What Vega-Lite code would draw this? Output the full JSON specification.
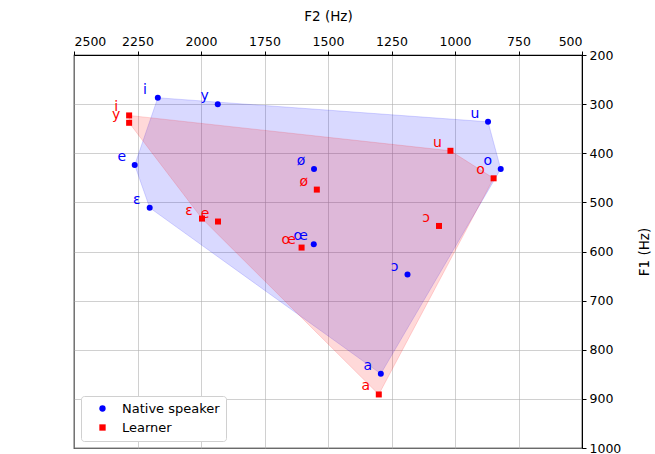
{
  "$schema": "https://vega.github.io/schema/vega-lite/v6.json",
  "autosize": {"type": "none"},
  "padding": {"left": 74, "top": 55, "right": 73, "bottom": 6},
  "width": 508,
  "height": 393,
  "config": {
    "font": "DejaVu Sans",
    "view": {"stroke": "black", "strokeWidth": 1.2},
    "axis": {"labelFont": "DejaVu Sans", "titleFont": "DejaVu Sans", "labelFontSize": 12.5, "titleFontSize": 13.5, "titleFontWeight": "normal", "labelColor": "black", "titleColor": "black", "gridColor": "#b0b0b0", "gridOpacity": 0.6, "tickColor": "black", "domainColor": "black", "tickSize": 4, "format": "d"}
  },
  "datasets": {
    "vowels": [
      {"speaker": "Native speaker", "vowel": "i", "F2": 2170, "F1": 287},
      {"speaker": "Native speaker", "vowel": "y", "F2": 1934, "F1": 300},
      {"speaker": "Native speaker", "vowel": "e", "F2": 2261, "F1": 424},
      {"speaker": "Native speaker", "vowel": "ɛ", "F2": 2202, "F1": 511},
      {"speaker": "Native speaker", "vowel": "ø", "F2": 1555, "F1": 432},
      {"speaker": "Native speaker", "vowel": "œ", "F2": 1556, "F1": 585},
      {"speaker": "Native speaker", "vowel": "ɔ", "F2": 1187, "F1": 647},
      {"speaker": "Native speaker", "vowel": "u", "F2": 870, "F1": 336},
      {"speaker": "Native speaker", "vowel": "o", "F2": 820, "F1": 432},
      {"speaker": "Native speaker", "vowel": "a", "F2": 1292, "F1": 849},
      {"speaker": "Learner", "vowel": "i", "F2": 2283, "F1": 323},
      {"speaker": "Learner", "vowel": "y", "F2": 2283, "F1": 338},
      {"speaker": "Learner", "vowel": "ɛ", "F2": 1996, "F1": 533},
      {"speaker": "Learner", "vowel": "e", "F2": 1933, "F1": 539},
      {"speaker": "Learner", "vowel": "ø", "F2": 1544, "F1": 474},
      {"speaker": "Learner", "vowel": "œ", "F2": 1604, "F1": 592},
      {"speaker": "Learner", "vowel": "u", "F2": 1018, "F1": 395},
      {"speaker": "Learner", "vowel": "o", "F2": 848, "F1": 451},
      {"speaker": "Learner", "vowel": "ɔ", "F2": 1063, "F1": 548},
      {"speaker": "Learner", "vowel": "a", "F2": 1300, "F1": 891}
    ],
    "hull": [
      {"speaker": "Native speaker", "k": 1, "F2": 2170, "F1": 287},
      {"speaker": "Native speaker", "k": 2, "F2": 870, "F1": 336},
      {"speaker": "Native speaker", "k": 3, "F2": 820, "F1": 432},
      {"speaker": "Native speaker", "k": 4, "F2": 1292, "F1": 849},
      {"speaker": "Native speaker", "k": 5, "F2": 2202, "F1": 511},
      {"speaker": "Native speaker", "k": 6, "F2": 2261, "F1": 424},
      {"speaker": "Native speaker", "k": 7, "F2": 2170, "F1": 287},
      {"speaker": "Learner", "k": 1, "F2": 2283, "F1": 323},
      {"speaker": "Learner", "k": 2, "F2": 1018, "F1": 395},
      {"speaker": "Learner", "k": 3, "F2": 848, "F1": 451},
      {"speaker": "Learner", "k": 4, "F2": 1300, "F1": 891},
      {"speaker": "Learner", "k": 5, "F2": 1996, "F1": 533},
      {"speaker": "Learner", "k": 6, "F2": 2283, "F1": 338},
      {"speaker": "Learner", "k": 7, "F2": 2283, "F1": 323}
    ]
  },
  "encoding": {
    "x": {"field": "F2", "type": "quantitative", "scale": {"domain": [500, 2500], "reverse": true, "nice": false, "zero": false}, "axis": {"orient": "top", "title": "F2 (Hz)", "values": [500, 750, 1000, 1250, 1500, 1750, 2000, 2250, 2500], "titlePadding": 12, "labelPadding": 3}},
    "y": {"field": "F1", "type": "quantitative", "scale": {"domain": [200, 1000], "reverse": true, "nice": false, "zero": false}, "axis": {"orient": "right", "title": "F1 (Hz)", "titleAngle": 270, "titleBaseline": "bottom", "values": [200, 300, 400, 500, 600, 700, 800, 900, 1000], "titlePadding": 31, "labelPadding": 3}}
  },
  "layer": [
    {
      "data": {"name": "hull"},
      "transform": [{"filter": "datum.speaker === 'Native speaker'"}],
      "mark": {"type": "line", "fill": "blue", "fillOpacity": 0.15, "stroke": "blue", "strokeOpacity": 0.15, "strokeWidth": 1},
      "encoding": {"order": {"field": "k", "type": "quantitative"}}
    },
    {
      "data": {"name": "hull"},
      "transform": [{"filter": "datum.speaker === 'Learner'"}],
      "mark": {"type": "line", "fill": "red", "fillOpacity": 0.15, "stroke": "red", "strokeOpacity": 0.15, "strokeWidth": 1},
      "encoding": {"order": {"field": "k", "type": "quantitative"}}
    },
    {
      "data": {"name": "vowels"},
      "mark": {"type": "point", "filled": true, "opacity": 1, "size": 36},
      "encoding": {
        "color": {"field": "speaker", "type": "nominal", "scale": {"domain": ["Native speaker", "Learner"], "range": ["blue", "red"]}, "legend": {"title": null, "orient": "bottom-left", "offset": 7, "fillColor": "white", "strokeColor": "#d0d0d0", "cornerRadius": 3, "padding": 6, "symbolOffset": 9, "labelFontSize": 13, "labelOffset": 13, "rowPadding": 5, "labelColor": "black", "symbolSize": 40}},
        "shape": {"field": "speaker", "type": "nominal", "scale": {"domain": ["Native speaker", "Learner"], "range": ["circle", "square"]}}
      }
    },
    {
      "data": {"name": "vowels"},
      "mark": {"type": "text", "dx": -13, "dy": -8, "fontSize": 14, "align": "center", "baseline": "middle"},
      "encoding": {
        "text": {"field": "vowel"},
        "color": {"field": "speaker", "type": "nominal", "scale": {"domain": ["Native speaker", "Learner"], "range": ["blue", "red"]}}
      }
    }
  ]
}
